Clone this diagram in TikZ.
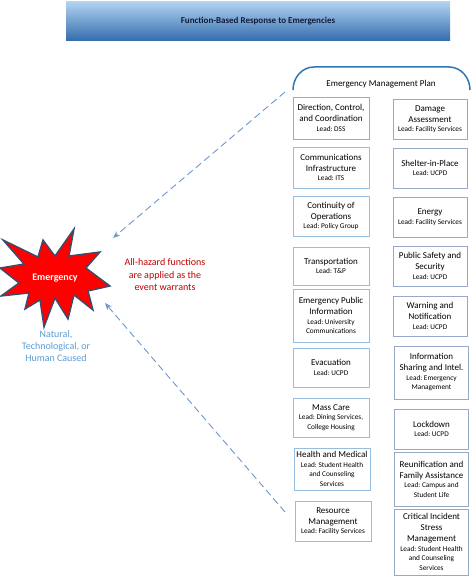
\documentclass[tikz,border=0pt]{standalone}
\usepackage{fontspec}
\setmainfont{Carlito}
\usepackage{tikz}
\usetikzlibrary{arrows.meta,positioning}
\definecolor{barTop}{RGB}{178,210,240}
\definecolor{barBottom}{RGB}{50,108,172}
\definecolor{barText}{RGB}{15,28,58}
\definecolor{planBlue}{RGB}{46,117,182}
\definecolor{leftEdge}{RGB}{150,190,225}
\definecolor{rightEdge}{RGB}{150,170,200}
\definecolor{firstEdge}{RGB}{90,195,235}
\definecolor{hazardRed}{RGB}{192,0,0}
\definecolor{causeBlue}{RGB}{91,155,213}
\definecolor{flowBlue}{RGB}{110,150,205}
\definecolor{starEdge}{RGB}{56,78,110}
\tikzset{>={Stealth[length=7pt,width=5.5pt]},
         fnbox/.style={draw, line width=0.8pt, fill=white, align=flush center, outer sep=0pt,
           inner xsep=1pt, inner ysep=1pt, font=\frenchspacing\fontsize{9}{11}\selectfont},
         lbox/.style={fnbox, draw=leftEdge, minimum width=76pt, text width=74pt},
         rbox/.style={fnbox, draw=rightEdge, minimum width=74pt, text width=72pt},
         flow/.style={->, draw=flowBlue, line width=0.9pt, dash pattern=on 7pt off 4pt}}
\newcommand{\lead}[1]{{\par\fontsize{7.3}{9.5}\selectfont Lead: #1\par}}

\begin{document}
\begin{tikzpicture}[x=1pt, y=-1pt]
	\useasboundingbox (0,0) rectangle (474,580);

	\node[minimum width=384pt, minimum height=39pt, top color=barTop, bottom color=barBottom,
	      text=barText, font=\bfseries\fontsize{9}{11}\selectfont] (title) at (258,21.5)
	      {Function-Based Response to Emergencies};

	% the plan
	\draw[planBlue, line width=1.5pt] (293,90) to[out=90, in=180] (314,67) -- (449,67)
	      to[out=0, in=90] (470,90);
	\node[font=\fontsize{9}{11}\selectfont] (plan) at (381,84) {Emergency Management Plan};

	\node[lbox, draw=firstEdge, minimum height=42pt, anchor=north] (dcc) at (331,97)
	      {Direction, Control,\\and Coordination\lead{DSS}};
	\node[lbox, minimum height=41pt, below=8pt of dcc] (comms)
	      {Communications\\Infrastructure\lead{ITS}};
	\node[lbox, minimum height=40pt, below=8pt of comms] (coop)
	      {Continuity of\\Operations\lead{Policy Group}};
	\node[lbox, minimum height=38pt, below=11pt of coop] (transport)
	      {Transportation\lead{T\&P}};
	\node[lbox, minimum height=53pt, below=4pt of transport] (epi)
	      {Emergency Public\\Information\lead{University\\Communications}};
	\node[lbox, minimum height=39pt, below=6pt of epi] (evac)
	      {Evacuation\lead{UCPD}};
	\node[lbox, minimum height=39pt, below=11pt of evac] (mass)
	      {Mass Care\lead{Dining Services,\\College Housing}};
	\node[lbox, minimum width=73pt, minimum height=42pt, below=11pt of mass, xshift=1pt] (health)
	      {Health and Medical\lead{Student Health\\and Counseling\\Services}};
	\node[lbox, minimum width=73pt, minimum height=40pt, below=11pt of health, xshift=1pt] (resource)
	      {Resource\\Management\lead{Facility Services}};

	\node[rbox, minimum height=40pt, anchor=north] (damage) at (430,99)
	      {Damage\\Assessment\lead{Facility Services}};
	\node[rbox, minimum height=40pt, below=9pt of damage] (shelter)
	      {Shelter-in-Place\lead{UCPD}};
	\node[rbox, minimum height=40pt, below=9pt of shelter] (energy)
	      {Energy\lead{Facility Services}};
	\node[rbox, minimum height=40pt, below=9pt of energy] (safety)
	      {Public Safety and\\Security\lead{UCPD}};
	\node[rbox, minimum height=40pt, below=10pt of safety] (warning)
	      {Warning and\\Notification\lead{UCPD}};
	\node[rbox, minimum height=53pt, below=10pt of warning, xshift=1.5pt] (intel)
	      {Information\\Sharing and Intel.\lead{Emergency\\Management}};
	\node[rbox, minimum height=40pt, below=10pt of intel] (lockdown)
	      {Lockdown\lead{UCPD}};
	\node[rbox, minimum height=54pt, below=3pt of lockdown] (reunify)
	      {Reunification and\\Family Assistance\lead{Campus and\\Student Life}};
	\node[rbox, minimum height=66pt, below=3pt of reunify] (cism)
	      {Critical Incident\\Stress\\Management\lead{Student Health\\and Counseling\\Services}};

	% the emergency
	\filldraw[fill=red, draw=starEdge, line width=1.4pt, line join=miter]
	      (3,240) -- (38,257) -- (43,240) -- (55,256) -- (74,229) -- (69,256) -- (100,252)
	      -- (86,268) -- (110,286) -- (88,291) -- (93,310) -- (74,295) -- (68,319) -- (55,298)
	      -- (44,327) -- (40,300) -- (25,309) -- (29,293) -- (1,296) -- (19,283) -- (0,268)
	      -- (24,264) -- cycle;
	\node[text=white, font=\bfseries\fontsize{10}{12}\selectfont] (emergency) at (55,278) {Emergency};
	\node[text=causeBlue, align=center, font=\fontsize{10}{12}\selectfont] (cause) at (56,346)
	      {Natural,\\Technological, or\\Human Caused};
	\node[text=hazardRed, align=center, font=\fontsize{10}{12.5}\selectfont] (hazard) at (165,275)
	      {All-hazard functions\\are applied as the\\event warrants};

	\coordinate (topTail) at (285,92);
	\coordinate (topTip) at (113,238);
	\coordinate (lowTail) at (285,512);
	\coordinate (lowTip) at (105,303);
	\draw[flow] (topTail) -- (topTip);
	\draw[flow] (lowTail) -- (lowTip);
\end{tikzpicture}
\end{document}
